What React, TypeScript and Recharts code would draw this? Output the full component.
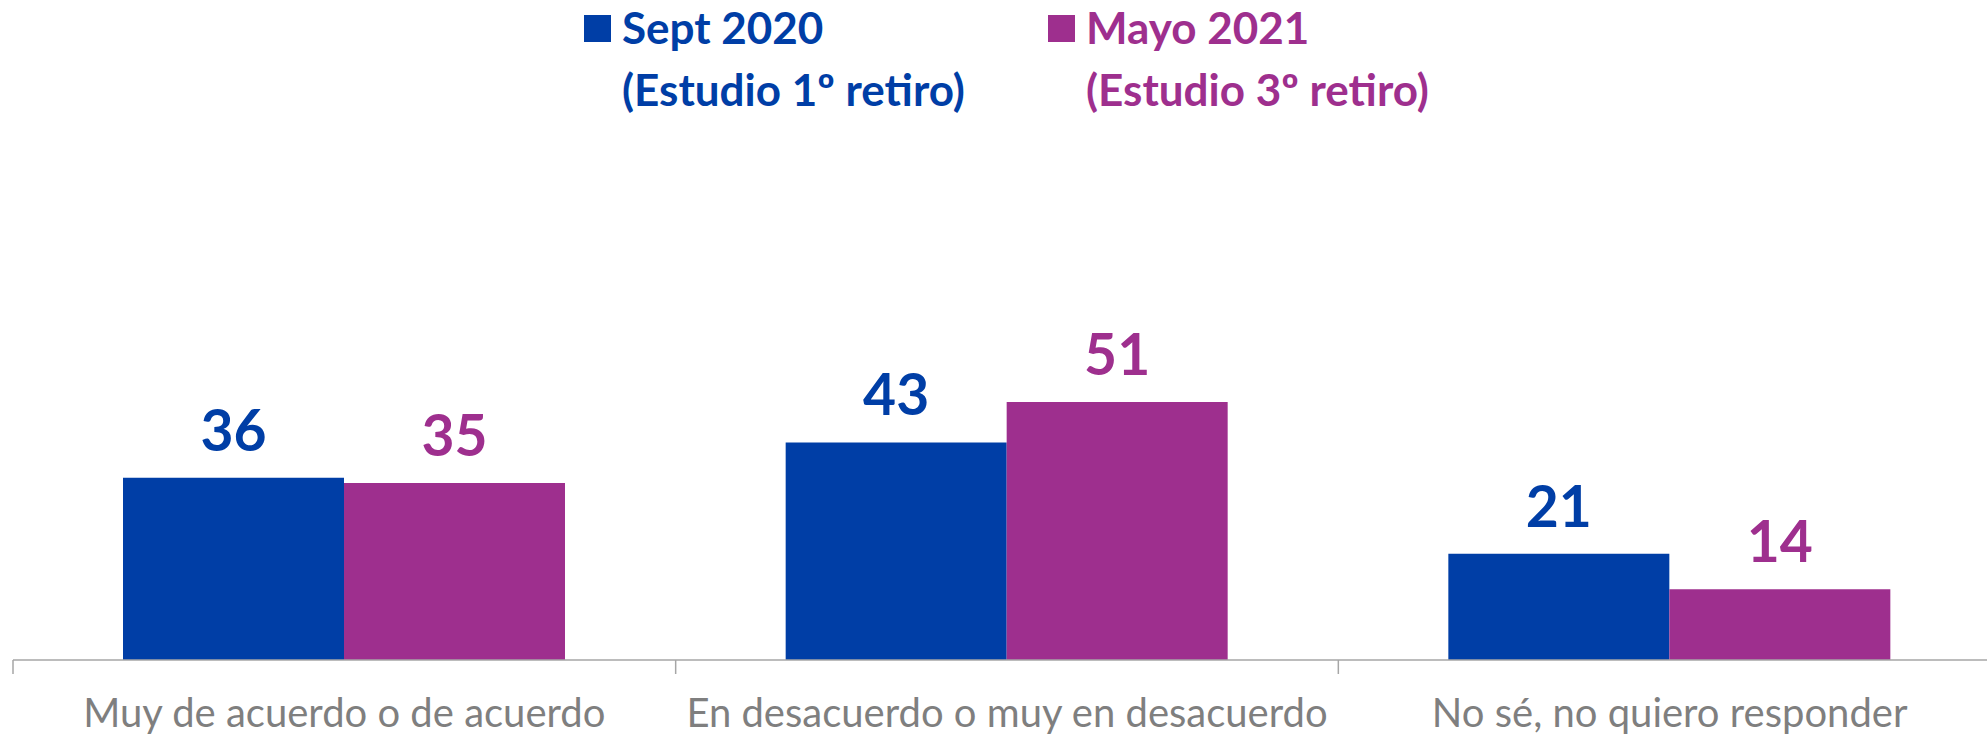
import React from "react";
import { BarChart, Bar, XAxis, YAxis, LabelList } from "recharts";

const categories = [
  "Muy de acuerdo o de acuerdo",
  "En desacuerdo o muy en desacuerdo",
  "No sé, no quiero responder",
];
const sept2020 = [36, 43, 21];
const mayo2021 = [35, 51, 14];
const seriesNames = ["Sept 2020", "Mayo 2021"];
const seriesSubtitles = ["(Estudio 1º retiro)", "(Estudio 3º retiro)"];
const seriesColors = ["#003EA6", "#9E2F8E"];

const data = categories.map((c, i) => ({ name: c, s1: sept2020[i], s2: mayo2021[i] }));

const CHART_W = 2001;
const CHART_H = 735;
const M_LEFT = 13;
const M_TOP = 154;
const XAXIS_H = 75;
const PLOT_BOTTOM = CHART_H - XAXIS_H;
const BAND = (CHART_W - M_LEFT) / categories.length;
const FONT = "Lato, 'Open Sans', sans-serif";

const Tick = (props: any) => {
  const { x, payload } = props;
  const left = x - BAND / 2;
  return (
    <g>
      <line x1={left} x2={left} y1={PLOT_BOTTOM} y2={PLOT_BOTTOM + 14} stroke="#A6A6A6" strokeWidth={1.5} />
      <text x={x} y={727} textAnchor="middle" fill="#7F7F7F" fontFamily={FONT} fontSize={40}>
        {payload.value}
      </text>
    </g>
  );
};

const makeLabel = (color: string) => (props: any) => {
  const { x, y, width, value } = props;
  return (
    <text x={x + width / 2} y={y - 27} textAnchor="middle" fill={color} fontFamily={FONT} fontWeight={700} fontSize={57}>
      {value}
    </text>
  );
};

const LegendBlock = () => {
  const xs = [584, 1048];
  return (
    <svg width={1987} height={130} style={{ position: "absolute", left: 0, top: 0, display: "block" }}>
      {seriesNames.map((n, i) => (
        <g key={n}>
          <rect x={xs[i]} y={15} width={27} height={27} fill={seriesColors[i]} />
          <text x={xs[i] + 38} y={44} fill={seriesColors[i]} fontFamily={FONT} fontWeight={700} fontSize={44}>
            {n}
          </text>
          <text x={xs[i] + 38} y={106} fill={seriesColors[i]} fontFamily={FONT} fontWeight={700} fontSize={44}>
            {seriesSubtitles[i]}
          </text>
        </g>
      ))}
    </svg>
  );
};

export default function App() {
  return (
    <div style={{ position: "absolute", left: 0, top: 0, width: 1987, height: 735, overflow: "hidden", background: "#fff" }}>
      <BarChart
        width={CHART_W}
        height={CHART_H}
        data={data}
        margin={{ top: M_TOP, right: 0, left: M_LEFT, bottom: 0 }}
        barCategoryGap="16.6%"
        barGap={0}
      >
        <XAxis
          dataKey="name"
          height={XAXIS_H}
          axisLine={{ stroke: "#A6A6A6", strokeWidth: 1.5 }}
          tickLine={false}
          tick={<Tick />}
          interval={0}
        />
        <YAxis hide domain={[0, 100]} />
        <Bar dataKey="s1" name={seriesNames[0]} fill={seriesColors[0]} isAnimationActive={false}>
          <LabelList dataKey="s1" content={makeLabel(seriesColors[0])} />
        </Bar>
        <Bar dataKey="s2" name={seriesNames[1]} fill={seriesColors[1]} isAnimationActive={false}>
          <LabelList dataKey="s2" content={makeLabel(seriesColors[1])} />
        </Bar>
      </BarChart>
      <LegendBlock />
    </div>
  );
}
